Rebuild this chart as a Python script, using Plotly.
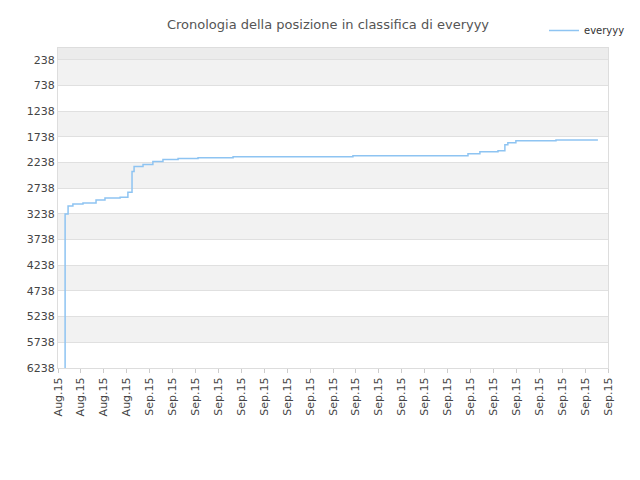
import plotly.graph_objects as go

x_pos = [0.31,0.31,0.44,0.65,1.09,1.66,2.05,2.71,3.05,3.23,3.32,3.71,4.14,4.58,5.24,6.11,7.64,12.87,17.89,18.41,19.2,19.5,19.63,19.98,21.73,23.56]
rank = [6238,3238,3084,3046,3027,2969,2930,2911,2815,2411,2315,2277,2219,2180,2161,2142,2123,2104,2065,2027,2007,1892,1853,1815,1796,1796]
tick_labels = ["Aug.15"]*4 + ["Sep.15"]*21
y_ticks = [238,738,1238,1738,2238,2738,3238,3738,4238,4738,5238,5738,6238]

fig = go.Figure()
fig.add_trace(go.Scatter(x=x_pos, y=rank, mode="lines", line_shape="hv",
                         line=dict(color="#8ec4f2", width=1.5), name="everyyy"))
shapes = [dict(type="rect", xref="paper", x0=0, x1=1, yref="y", y0=7, y1=238,
               fillcolor="#ececec", line_width=0, layer="below")]
for a in [238, 1238, 2238, 3238, 4238, 5238]:
    shapes.append(dict(type="rect", xref="paper", x0=0, x1=1, yref="y", y0=a, y1=a+500,
                       fillcolor="#f2f2f2", line_width=0, layer="below"))
fig.update_layout(
    width=640, height=480, plot_bgcolor="white", paper_bgcolor="white",
    margin=dict(l=50, r=40, t=40, b=120, autoexpand=False), shapes=shapes,
    title=dict(text="Cronologia della posizione in classifica di everyyy", x=0.5, y=0.975,
               font=dict(family="DejaVu Sans", size=13, color="#555")),
    font=dict(family="DejaVu Sans", size=11, color="#444"),
    showlegend=True,
    legend=dict(x=1.04, y=1.1, xanchor="right", yanchor="top", bgcolor="rgba(0,0,0,0)",
                font=dict(size=10, color="#333")),
    xaxis=dict(range=[0,24], tickmode="array", tickvals=list(range(25)), ticktext=tick_labels,
               tickangle=-90, showgrid=False, showline=True, linecolor="#ddd", mirror=True,
               zeroline=False, ticks="outside", ticklen=4, tickcolor="#ccc", automargin=False),
    yaxis=dict(range=[6238,7], tickmode="array", tickvals=y_ticks, showgrid=True,
               gridcolor="#e0e0e0", showline=True, linecolor="#ddd", mirror=True,
               zeroline=False, automargin=False),
)
fig.write_html("out.html")
